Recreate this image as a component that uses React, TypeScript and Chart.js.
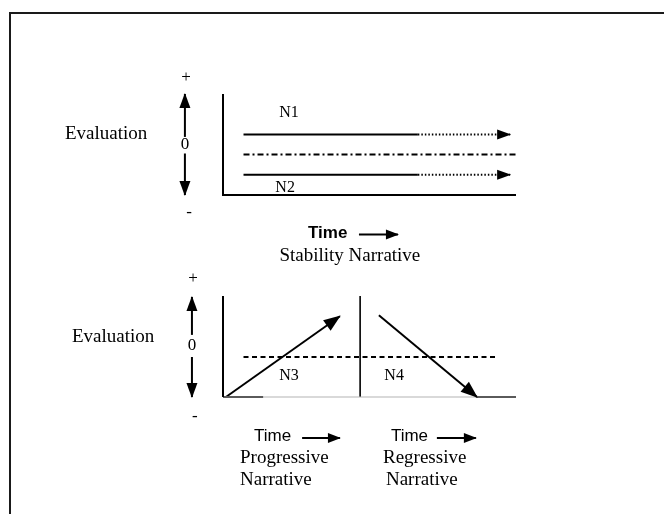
import React, { useEffect, useRef } from "react";
import { Chart, registerables } from "chart.js";

Chart.register(...registerables);

// ---- Data (time axis 0..10 shared by both panels; evaluation -1..+1 per panel) ----
// Stability narrative (top panel)
const stabilityStartTime = 0.7;
const stabilitySolidEnd = 6.65;
const stabilityArrowEnd = 9.8;
const stabilityLevels = [0.2, -0.6]; // N1, N2
const stabilityBaseline = -0.2;
const stabilityBaselineEnd = 10;

// Progressive / regressive narratives (bottom panel)
const progressivePath = [
  [0.1, -1],
  [3.99, 0.6],
];
const regressivePath = [
  [5.32, 0.62],
  [8.67, -1],
];
const narrativeDivider = 4.68;
const bottomBaseline = -0.21;
const bottomBaselineRange = [0.7, 9.39];
const bottomAxisBlackEnds = [1.37, 8.63];

// Evaluation double arrows (time position, gap around "0")
const evalArrowTop = [-1.3, 0.15, -0.18];
const evalArrowBottom = [-1.06, 0.23, -0.21];

// "Time →" arrows
const timeArrowTop = [4.64, 5.97, -1.78];
const timeArrowsBottom = [
  [2.7, 3.99, -1.81],
  [7.3, 8.63, -1.81],
];

// Text labels: [text, time, evaluation, axis, fontKey, align]
const labels: [string, number, number, string, string, CanvasTextAlign][] = [
  ["+", -1.26, 1.32, "yTop", "sign", "center"],
  ["0", -1.3, 0, "yTop", "sign", "center"],
  ["-", -1.16, -1.34, "yTop", "sign", "center"],
  ["Evaluation", -3.99, 0.21, "yTop", "big", "center"],
  ["N1", 2.25, 0.62, "yTop", "small", "center"],
  ["N2", 2.12, -0.86, "yTop", "small", "center"],
  ["Time", 2.9, -1.75, "yTop", "timeBold", "left"],
  ["Stability Narrative", 4.33, -2.21, "yTop", "big", "center"],
  ["+", -1.02, 1.34, "yBot", "sign", "center"],
  ["0", -1.06, 0.02, "yBot", "sign", "center"],
  ["-", -0.96, -1.38, "yBot", "sign", "center"],
  ["Evaluation", -3.75, 0.19, "yBot", "big", "center"],
  ["N3", 2.25, -0.58, "yBot", "small", "center"],
  ["N4", 5.84, -0.58, "yBot", "small", "center"],
  ["Time", 1.06, -1.77, "yBot", "time", "left"],
  ["Time", 5.73, -1.77, "yBot", "time", "left"],
  ["Progressive", 0.58, -2.21, "yBot", "big", "left"],
  ["Narrative", 0.58, -2.64, "yBot", "big", "left"],
  ["Regressive", 5.46, -2.21, "yBot", "big", "left"],
  ["Narrative", 5.56, -2.64, "yBot", "big", "left"],
];

const fonts: Record<string, string> = {
  sign: "17px 'Liberation Serif'",
  big: "19px 'Liberation Serif'",
  small: "16px 'Liberation Serif'",
  timeBold: "bold 17px 'Liberation Sans'",
  time: "17px 'Liberation Sans'",
};

const INK = "#000";

type Pt = { x: number; y: number };
const pts = (arr: number[][]): Pt[] => arr.map(([x, y]) => ({ x, y }));

function seg(
  data: Pt[],
  axis: string,
  opts: Record<string, any> = {}
): any {
  return {
    data,
    yAxisID: axis,
    showLine: true,
    pointRadius: 0,
    borderColor: INK,
    borderWidth: 2,
    borderCapStyle: "butt",
    fill: false,
    clip: false,
    ...opts,
  };
}

function buildDatasets() {
  const ds: any[] = [];
  // Top panel axes
  ds.push(seg(pts([[0, 1], [0, -1], [stabilityBaselineEnd, -1]]), "yTop"));
  // N1 / N2 lines: solid then dotted with arrow
  stabilityLevels.forEach((lv) => {
    ds.push(seg(pts([[stabilityStartTime, lv], [stabilitySolidEnd, lv]]), "yTop"));
    ds.push(
      seg(pts([[stabilitySolidEnd, lv], [stabilityArrowEnd, lv]]), "yTop", {
        borderDash: [1.5, 2],
        borderWidth: 2,
        arrow: { len: 13, w: 10 },
      })
    );
  });
  // dash-dot baseline
  ds.push(
    seg(pts([[stabilityStartTime, stabilityBaseline], [stabilityBaselineEnd, stabilityBaseline]]), "yTop", {
      borderDash: [6, 3, 2, 3],
    })
  );
  // Evaluation double arrow (top)
  ds.push(seg(pts([[evalArrowTop[0], evalArrowTop[1]], [evalArrowTop[0], 1]]), "yTop", { arrow: { len: 14, w: 11 } }));
  ds.push(seg(pts([[evalArrowTop[0], evalArrowTop[2]], [evalArrowTop[0], -1]]), "yTop", { arrow: { len: 14, w: 11 } }));
  // Time arrow top
  ds.push(
    seg(pts([[timeArrowTop[0], timeArrowTop[2]], [timeArrowTop[1], timeArrowTop[2]]]), "yTop", {
      arrow: { len: 12, w: 10 },
    })
  );

  // Bottom panel axes
  ds.push(seg(pts([[0, 1], [0, -1]]), "yBot"));
  ds.push(seg(pts([[0, -1], [10, -1]]), "yBot", { borderColor: "#b4b4b4", borderWidth: 1.2 }));
  ds.push(seg(pts([[0, -1], [bottomAxisBlackEnds[0], -1]]), "yBot"));
  ds.push(seg(pts([[bottomAxisBlackEnds[1], -1], [10, -1]]), "yBot"));
  ds.push(seg(pts([[narrativeDivider, 1], [narrativeDivider, -1]]), "yBot", { borderWidth: 1.6 }));
  // dashed baseline
  ds.push(
    seg(pts([[bottomBaselineRange[0], bottomBaseline], [bottomBaselineRange[1], bottomBaseline]]), "yBot", {
      borderDash: [5, 3.5],
    })
  );
  // progressive & regressive
  ds.push(seg(pts(progressivePath), "yBot", { arrow: { len: 16, w: 13 } }));
  ds.push(seg(pts(regressivePath), "yBot", { arrow: { len: 16, w: 13 } }));
  // Evaluation double arrow (bottom)
  ds.push(seg(pts([[evalArrowBottom[0], evalArrowBottom[1]], [evalArrowBottom[0], 0.98]]), "yBot", { arrow: { len: 14, w: 11 } }));
  ds.push(seg(pts([[evalArrowBottom[0], evalArrowBottom[2]], [evalArrowBottom[0], -1]]), "yBot", { arrow: { len: 14, w: 11 } }));
  // time arrows bottom
  timeArrowsBottom.forEach(([a, b, v]) => {
    ds.push(seg(pts([[a, v], [b, v]]), "yBot", { arrow: { len: 12, w: 10 } }));
  });
  return ds;
}

const framePlugin = {
  id: "frame",
  beforeDraw(chart: any) {
    const ctx = chart.ctx;
    ctx.save();
    ctx.fillStyle = "#fff";
    ctx.fillRect(0, 0, chart.width, chart.height);
    ctx.strokeStyle = "#1a1a1a";
    ctx.lineWidth = 2;
    ctx.beginPath();
    ctx.moveTo(10, chart.height);
    ctx.lineTo(10, 13);
    ctx.lineTo(chart.width, 13);
    ctx.stroke();
    ctx.restore();
  },
};

const arrowPlugin = {
  id: "arrowheads",
  afterDatasetsDraw(chart: any) {
    const ctx = chart.ctx;
    chart.data.datasets.forEach((d: any, i: number) => {
      if (!d.arrow) return;
      const meta = chart.getDatasetMeta(i);
      const n = meta.data.length;
      if (n < 2) return;
      const p1 = meta.data[n - 2];
      const p2 = meta.data[n - 1];
      const ang = Math.atan2(p2.y - p1.y, p2.x - p1.x);
      const { len, w } = d.arrow;
      ctx.save();
      ctx.translate(p2.x, p2.y);
      ctx.rotate(ang);
      ctx.fillStyle = INK;
      ctx.beginPath();
      ctx.moveTo(1, 0);
      ctx.lineTo(-len, -w / 2);
      ctx.lineTo(-len, w / 2);
      ctx.closePath();
      ctx.fill();
      ctx.restore();
    });
  },
};

const labelPlugin = {
  id: "labels",
  afterDraw(chart: any) {
    const ctx = chart.ctx;
    const xs = chart.scales.x;
    ctx.save();
    ctx.fillStyle = INK;
    ctx.textBaseline = "middle";
    labels.forEach(([text, t, v, axis, fk, align]) => {
      const ys = chart.scales[axis];
      ctx.font = fonts[fk];
      ctx.textAlign = align;
      ctx.fillText(text, xs.getPixelForValue(t), ys.getPixelForValue(v));
    });
    ctx.restore();
  },
};

export default function App() {
  const ref = useRef<HTMLCanvasElement | null>(null);
  useEffect(() => {
    if (!ref.current) return;
    const chart = new Chart(ref.current, {
      type: "scatter",
      data: { datasets: buildDatasets() },
      options: {
        animation: false,
        responsive: false,
        devicePixelRatio: 1,
        layout: { padding: { left: 223, right: 148, top: 94, bottom: 117 } },
        plugins: { legend: { display: false }, tooltip: { enabled: false }, title: { display: false } },
        events: [],
        scales: {
          x: { type: "linear", min: 0, max: 10, display: false },
          y: { type: "linear", display: false },
          yTop: { type: "linear", axis: "y", min: -5, max: 1, display: false },
          yBot: { type: "linear", axis: "y", min: -1, max: 5, display: false },
        },
      } as any,
      plugins: [framePlugin, arrowPlugin, labelPlugin],
    });
    return () => chart.destroy();
  }, []);
  return (
    <div style={{ position: "absolute", left: 0, top: 0, width: 664, height: 514, background: "#fff" }}>
      <canvas ref={ref} width={664} height={514} style={{ display: "block" }} />
    </div>
  );
}
